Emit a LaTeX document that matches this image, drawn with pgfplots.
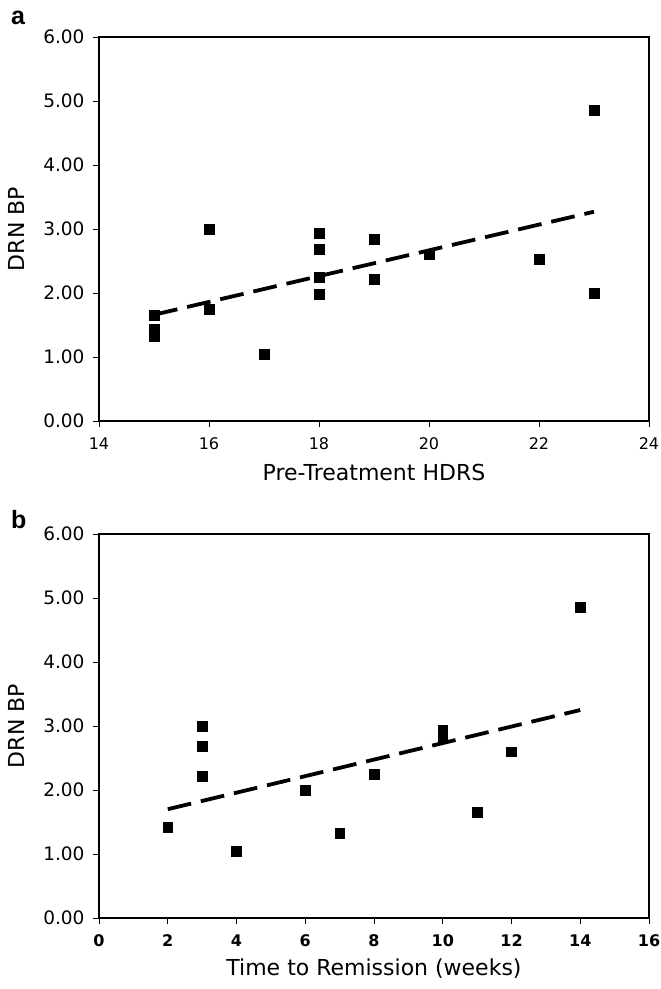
\documentclass[border=0pt]{standalone}
\usepackage{fontspec}
\setmainfont{DejaVu Sans}
\newfontfamily\panelfont{Liberation Sans}
\usepackage{pgfplots}
\pgfplotsset{compat=1.18}

\pgfplotsset{
  drn/.style={
    scale only axis,
    width=550pt, height=384pt,
    axis line style={line width=1.1pt},
    ymin=0, ymax=6,
    ytick={0,1,2,3,4,5,6},
    /pgf/number format/assume math mode=true,
    yticklabel style={font=\fontsize{18.5}{20}\selectfont, xshift=-5pt,
      /pgf/number format/.cd, fixed, fixed zerofill, precision=2},
    xticklabel style={font=\fontsize{16}{18}\selectfont, yshift=-7pt},
    tick align=outside,
    xtick pos=left, ytick pos=left,
    major tick length=6pt,
    tick style={line width=0.9pt, black},
    label style={font=\fontsize{22}{24}\selectfont},
    ylabel style={at={(axis description cs:0,0.5)}, anchor=center, rotate=0, yshift=83pt},
    xlabel style={at={(axis description cs:0.5,0)}, anchor=center, yshift=-51pt},
    clip=false,
  },
  pts/.style={only marks, mark=square*, mark size=4.9pt, mark options={fill=black, draw=black}},
  fit/.style={black, line width=3.8pt, dash pattern=on 24pt off 10pt, no marks},
}

\begin{document}
\begin{tikzpicture}
\path[use as bounding box] (-99pt,37pt) rectangle (562pt,-952pt);

% panel a
\begin{axis}[drn, at={(0pt,0pt)}, anchor=north west,
    xmin=14, xmax=24, xtick={14,16,18,20,22,24},
    xlabel={Pre-Treatment HDRS}, ylabel={DRN BP}]
\addplot[pts] coordinates {
    (15,1.65) (15,1.43) (15,1.33) (16,3.00) (16,1.75) (17,1.05)
    (18,2.93) (18,2.68) (18,2.25) (18,1.98) (19,2.84) (19,2.21)
    (20,2.60) (22,2.53) (23,4.86) (23,2.00)
};
\addplot[fit] coordinates {(15,1.66) (23,3.27)};
\end{axis}

% panel b
\begin{axis}[drn, at={(0pt,-497pt)}, anchor=north west,
    xmin=0, xmax=16, xtick={0,2,4,6,8,10,12,14,16},
    xticklabel style={font=\fontsize{16}{18}\selectfont\bfseries},
    xlabel={Time to Remission (weeks)}, ylabel={DRN BP}]
\addplot[pts] coordinates {
    (2,1.42) (3,3.00) (3,2.68) (3,2.21) (4,1.05) (6,2.00) (7,1.33)
    (8,2.25) (10,2.93) (10,2.84) (11,1.65) (12,2.60) (14,4.86)
};
\addplot[fit] coordinates {(2,1.70) (14,3.25)};
\end{axis}

\node[anchor=base west, font=\panelfont\bfseries\fontsize{25}{27}\selectfont, inner sep=0pt] at (-88pt,13pt) {a};
\node[anchor=base west, font=\panelfont\bfseries\fontsize{25}{27}\selectfont, inner sep=0pt] at (-88pt,-491pt) {b};
\end{tikzpicture}
\end{document}
